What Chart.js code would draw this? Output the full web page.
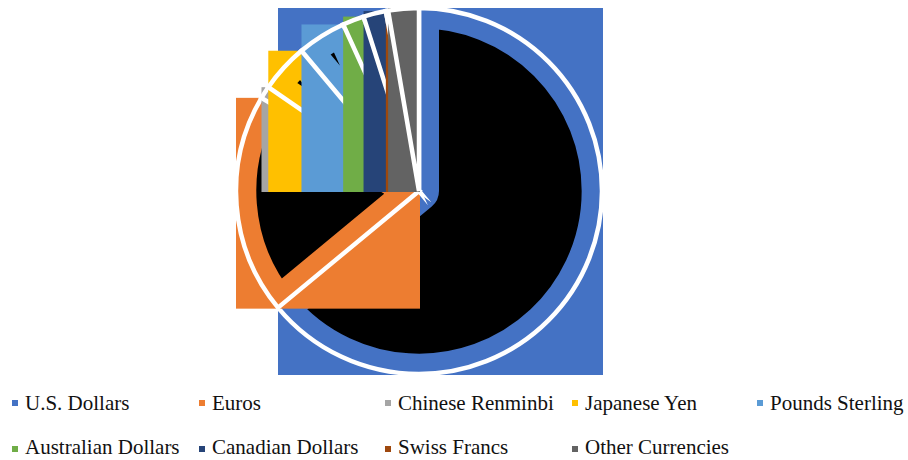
<!DOCTYPE html>
<html>
<head>
<meta charset="utf-8">
<script src="https://cdn.jsdelivr.net/npm/chart.js@4.4.1/dist/chart.umd.min.js"></script>
<style>
  html, body { margin: 0; padding: 0; background: #fff; }
  #wrap { position: relative; width: 908px; height: 460px; overflow: hidden; }
  #chartBox { position: absolute; left: 0; top: 0; width: 908px; height: 385px; }
  .lg-mark { position: absolute; width: 6px; height: 6px; }
  .lg-text { position: absolute; font-family: "Liberation Serif", Tinos, "Times New Roman", Times, "DejaVu Serif", serif;
             font-size: 21px; line-height: 21px; color: #111; white-space: nowrap; }
</style>
</head>
<body>
<div id="wrap">
  <div id="chartBox"><canvas id="pie"></canvas></div>
  <div id="legend"></div>
</div>
<script>
// share of reserves, in percent
const currencies = ["U.S. Dollars", "Euros", "Chinese Renminbi", "Japanese Yen", "Pounds Sterling",
                    "Australian Dollars", "Canadian Dollars", "Swiss Francs", "Other Currencies"];
const shares = [64.0, 19.5, 1.1, 4.3, 4.3, 1.9, 2.0, 0.2, 2.7];
const sliceColors = ["#4472C4", "#ED7D31", "#A5A5A5", "#FFC000", "#5B9BD5",
                     "#70AD47", "#264478", "#9E480E", "#636363"];

// each slice: filled bounding box, then the slice (black with a coloured inner band), then a white outline
const boxedSlices = {
  id: "boxedSlices",
  beforeDatasetDraw(chart, args) {
    const ctx = chart.ctx;
    args.meta.data.forEach((arc, i) => {
      const p = arc.getProps(["x", "y", "startAngle", "endAngle", "outerRadius"], true);
      const r = p.outerRadius;
      const xs = [p.x, p.x + r * Math.cos(p.startAngle), p.x + r * Math.cos(p.endAngle)];
      const ys = [p.y, p.y + r * Math.sin(p.startAngle), p.y + r * Math.sin(p.endAngle)];
      for (let k = -4; k <= 4; k++) {
        const a = k * Math.PI / 2;
        if (a > p.startAngle && a < p.endAngle) {
          xs.push(p.x + r * Math.cos(a));
          ys.push(p.y + r * Math.sin(a));
        }
      }
      const x0 = Math.min(...xs), x1 = Math.max(...xs);
      const y0 = Math.min(...ys), y1 = Math.max(...ys);
      ctx.save();
      ctx.fillStyle = sliceColors[i];
      ctx.fillRect(x0, y0, x1 - x0 + 1, y1 - y0 + 1);
      ctx.restore();

      ctx.save();
      arc.draw(ctx);
      ctx.restore();

      ctx.save();
      ctx.beginPath();
      ctx.moveTo(p.x, p.y);
      ctx.arc(p.x, p.y, r, p.startAngle, p.endAngle);
      ctx.closePath();
      ctx.strokeStyle = "#fff";
      ctx.lineWidth = 4.5;
      ctx.lineJoin = "miter";
      ctx.stroke();
      ctx.restore();
    });
    return false;
  }
};

new Chart(document.getElementById("pie"), {
  type: "pie",
  data: {
    labels: currencies,
    datasets: [{
      data: shares,
      backgroundColor: "#000",
      borderColor: sliceColors,
      borderWidth: 20,
      borderAlign: "inner"
    }]
  },
  options: {
    responsive: true,
    maintainAspectRatio: false,
    animation: false,
    radius: 183,
    layout: { padding: { left: 0, right: 70, top: 0, bottom: 3 } },
    plugins: {
      legend: { display: false },
      tooltip: { enabled: false }
    }
  },
  plugins: [boxedSlices]
});

// legend, two rows on a fixed grid
const legendCols = [12, 199, 385, 572, 757];
const legendRows = [{ mark: 400, text: 393 }, { mark: 446, text: 437 }];
const legend = document.getElementById("legend");
currencies.forEach((name, i) => {
  const col = legendCols[i % 5];
  const row = legendRows[Math.floor(i / 5)];
  const m = document.createElement("div");
  m.className = "lg-mark";
  m.style.left = col + "px";
  m.style.top = row.mark + "px";
  m.style.background = sliceColors[i];
  const t = document.createElement("div");
  t.className = "lg-text";
  t.style.left = (col + 13) + "px";
  t.style.top = row.text + "px";
  t.textContent = name;
  legend.appendChild(m);
  legend.appendChild(t);
});
</script>
</body>
</html>
